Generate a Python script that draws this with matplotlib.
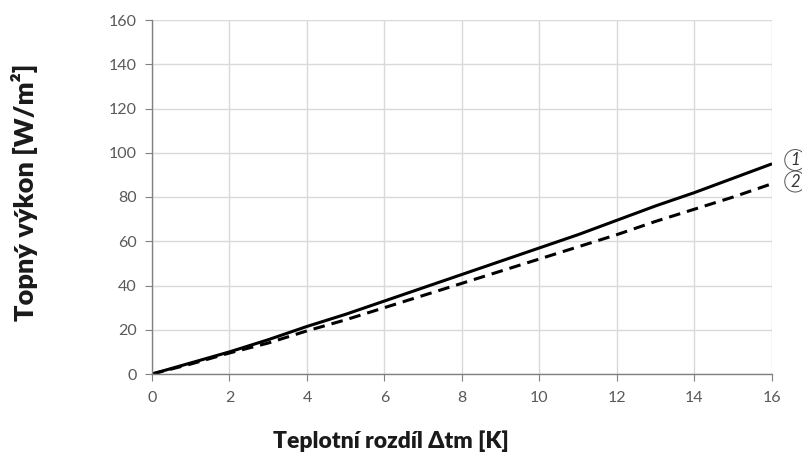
import numpy as np
import matplotlib.pyplot as plt

plt.rcParams['font.family'] = ['Lato', 'DejaVu Sans']

dt = [0, 1, 2, 3, 4, 5, 6, 7, 8, 9, 10, 11, 12, 13, 14, 15, 16]
vykon_1 = [0, 5, 10, 15.5, 21.5, 27, 33, 39, 45, 51, 57, 63, 69.5, 76, 82, 88.5, 95]
vykon_2 = [0, 4.5, 9.5, 14, 19.5, 24.5, 30, 35.5, 41, 46.5, 52, 57.5, 63, 69, 74.5, 80, 86]

fig = plt.figure(figsize=(8.03, 4.55), dpi=100)
ax = fig.add_axes([152/803, 1 - 374/455, 620/803, 354/455])

ax.plot(dt, vykon_1, color='black', linewidth=2.2, solid_capstyle='butt')
ax.plot(dt, vykon_2, color='black', linewidth=2.2, linestyle=(0, (3.8, 2.3)))

ax.set_xlim(0, 16)
ax.set_ylim(0, 160)
ax.set_xticks(np.arange(0, 17, 2))
ax.set_yticks(np.arange(0, 161, 20))
ax.grid(True, color='#d9d9d9', linewidth=1.0)
ax.set_axisbelow(True)

for s in ['top', 'right']:
    ax.spines[s].set_visible(False)
for s in ['left', 'bottom']:
    ax.spines[s].set_color('#808080')
    ax.spines[s].set_linewidth(1.0)

ax.tick_params(axis='both', colors='#808080', labelcolor='#595959', labelsize=11.5, length=5)
ax.tick_params(axis='x', pad=7)
ax.tick_params(axis='y', pad=6)

fig.text(391/803, 1 - 441/455, 'Teplotní rozdíl Δtm [K]', fontsize=16.5, fontweight='heavy',
         color='#1a1a1a', ha='center', va='center')
fig.text(25/803, 1 - 192/455, 'Topný výkon [W/m²]', fontsize=19.5, fontweight='heavy',
         color='#1a1a1a', ha='center', va='center', rotation=90)

ax.text(16.6, 96.7, '1', fontsize=12, style='italic', color='#333333',
        ha='center', va='center', clip_on=False,
        bbox=dict(boxstyle='circle,pad=0.15', fc='white', ec='#555555', lw=0.7))
ax.text(16.6, 87, '2', fontsize=12, style='italic', color='#333333',
        ha='center', va='center', clip_on=False,
        bbox=dict(boxstyle='circle,pad=0.15', fc='white', ec='#555555', lw=0.7))

fig.savefig('out.png', dpi=100)
